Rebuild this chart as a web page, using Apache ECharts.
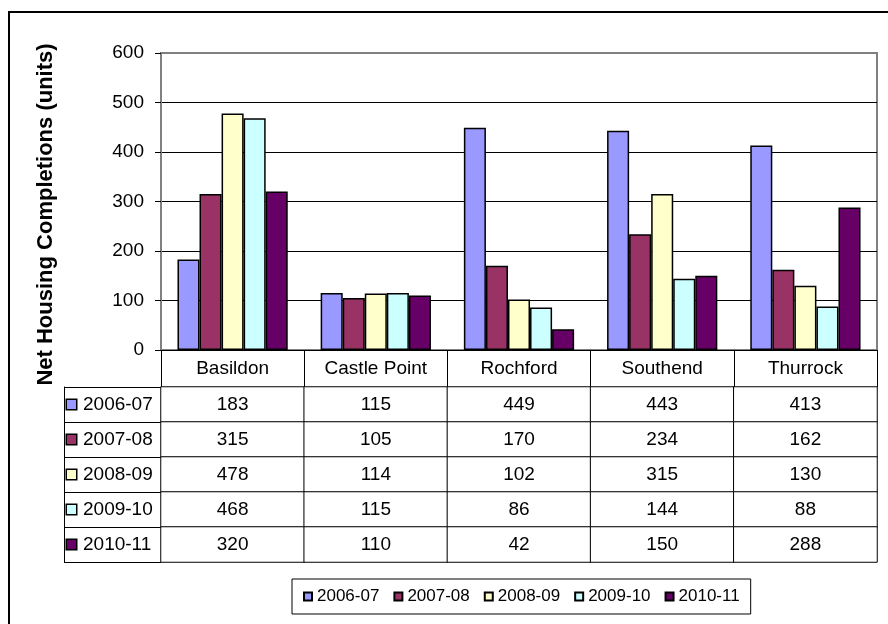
<!DOCTYPE html>
<html>
<head>
<meta charset="utf-8">
<title>Net Housing Completions</title>
<script src="https://cdn.jsdelivr.net/npm/echarts@6/dist/echarts.min.js"></script>
<style>
  html, body { margin: 0; padding: 0; background: #fff; }
  #main { width: 888px; height: 624px; }
</style>
</head>
<body>
<div id="main"></div>
<script>
// Districts along the x axis
const districts = ['Basildon', 'Castle Point', 'Rochford', 'Southend', 'Thurrock'];
// Monitoring years (one series each)
const years = ['2006-07', '2007-08', '2008-09', '2009-10', '2010-11'];
// Net completions per district, one array per year
const y2006_07 = [183, 115, 449, 443, 413];
const y2007_08 = [315, 105, 170, 234, 162];
const y2008_09 = [478, 114, 102, 315, 130];
const y2009_10 = [468, 115, 86, 144, 88];
const y2010_11 = [320, 110, 42, 150, 288];
const yearValues = [y2006_07, y2007_08, y2008_09, y2009_10, y2010_11];

const palette = ['#9999FF', '#993366', '#FFFFCC', '#CCFFFF', '#660066'];
const FONT = '"Liberation Sans", Arial, sans-serif';

// Bar series, one per year
const barSeries = years.map((yr, i) => ({
  name: yr,
  type: 'bar',
  xAxisIndex: 0,
  yAxisIndex: 0,
  data: yearValues[i],
  barGap: '0%',
  barCategoryGap: '23%',
  itemStyle: { color: palette[i], borderColor: '#000', borderWidth: 1.5 }
}));

// Data table cells: [districtIndex, yearIndex, value]
const tableCells = [];
yearValues.forEach((vals, yi) => vals.forEach((v, xi) => tableCells.push([xi, yi, v])));

// Row headers of the table: colour key + year label
const keyRich = { t: { fontSize: 19, color: '#000', padding: [0, 0, 0, 7], fontFamily: FONT } };
palette.forEach((c, i) => {
  keyRich['k' + i] = { width: 9, height: 9, backgroundColor: c, borderColor: '#000', borderWidth: 1.5 };
});

const chart = echarts.init(document.getElementById('main'), null, { renderer: 'canvas' });

chart.setOption({
  animation: false,
  textStyle: { fontFamily: FONT },
  graphic: [{
    type: 'rect',
    silent: true,
    shape: { x: 9, y: 12, width: 900, height: 700 },
    style: { fill: 'none', stroke: '#000', lineWidth: 2 }
  }],
  legend: {
    data: years,
    left: 292,
    top: 579,
    orient: 'horizontal',
    icon: 'rect',
    itemWidth: 8,
    itemHeight: 8,
    itemGap: 14,
    padding: [9, 11, 9, 11],
    borderColor: '#000',
    borderWidth: 1,
    textStyle: { fontSize: 17, color: '#000', fontFamily: FONT }
  },
  grid: [
    { left: 161, right: 11, top: 53, height: 297, show: true, borderColor: '#808080', borderWidth: 2 },
    { left: 161, right: 11, top: 387, height: 175 }
  ],
  xAxis: [
    {
      type: 'category',
      gridIndex: 0,
      data: districts,
      axisLine: { lineStyle: { color: '#000', width: 1 } },
      axisTick: { show: true, length: 37, interval: 0, lineStyle: { color: '#000', width: 1 } },
      axisLabel: { interval: 0, margin: 9, fontSize: 19, color: '#000' }
    },
    {
      type: 'category',
      gridIndex: 1,
      data: districts,
      axisLine: { show: false },
      axisTick: { show: false },
      axisLabel: { show: false },
      splitLine: { show: false }
    }
  ],
  yAxis: [
    {
      type: 'value',
      gridIndex: 0,
      min: 0,
      max: 600,
      interval: 100,
      name: 'Net Housing Completions (units)',
      nameLocation: 'middle',
      nameGap: 104,
      nameTextStyle: { fontSize: 22, fontWeight: 'bold', color: '#000', padding: [0, 26, 0, 0] },
      axisLine: { show: true, lineStyle: { color: '#808080', width: 2 } },
      axisTick: { show: true, length: 6, lineStyle: { color: '#000', width: 1 } },
      axisLabel: { fontSize: 19, color: '#000', margin: 17 },
      splitLine: { show: true, showMinLine: false, showMaxLine: false, lineStyle: { color: '#000', width: 1 } }
    },
    {
      type: 'category',
      gridIndex: 1,
      data: years,
      inverse: true,
      axisLine: { show: false },
      axisTick: { show: true, length: 97, interval: 0, lineStyle: { color: '#000', width: 1 } },
      axisLabel: {
        interval: 0,
        align: 'left',
        margin: 94,
        formatter: (val, idx) => '{k' + idx + '|}{t|' + val + '}',
        rich: keyRich
      },
      splitLine: { show: false }
    },
    {
      type: 'value',
      gridIndex: 1,
      position: 'left',
      offset: 97,
      axisLine: { show: true, lineStyle: { color: '#000', width: 1 } },
      axisTick: { show: false },
      axisLabel: { show: false },
      splitLine: { show: false }
    }
  ],
  series: barSeries.concat([{
    name: 'table',
    type: 'heatmap',
    xAxisIndex: 1,
    yAxisIndex: 1,
    data: tableCells,
    itemStyle: { color: '#fff', borderColor: '#000', borderWidth: 1 },
    label: {
      show: true,
      fontSize: 19,
      color: '#000',
      fontFamily: FONT,
      formatter: p => String(p.value[2])
    },
    emphasis: { disabled: true }
  }])
});
</script>
</body>
</html>
